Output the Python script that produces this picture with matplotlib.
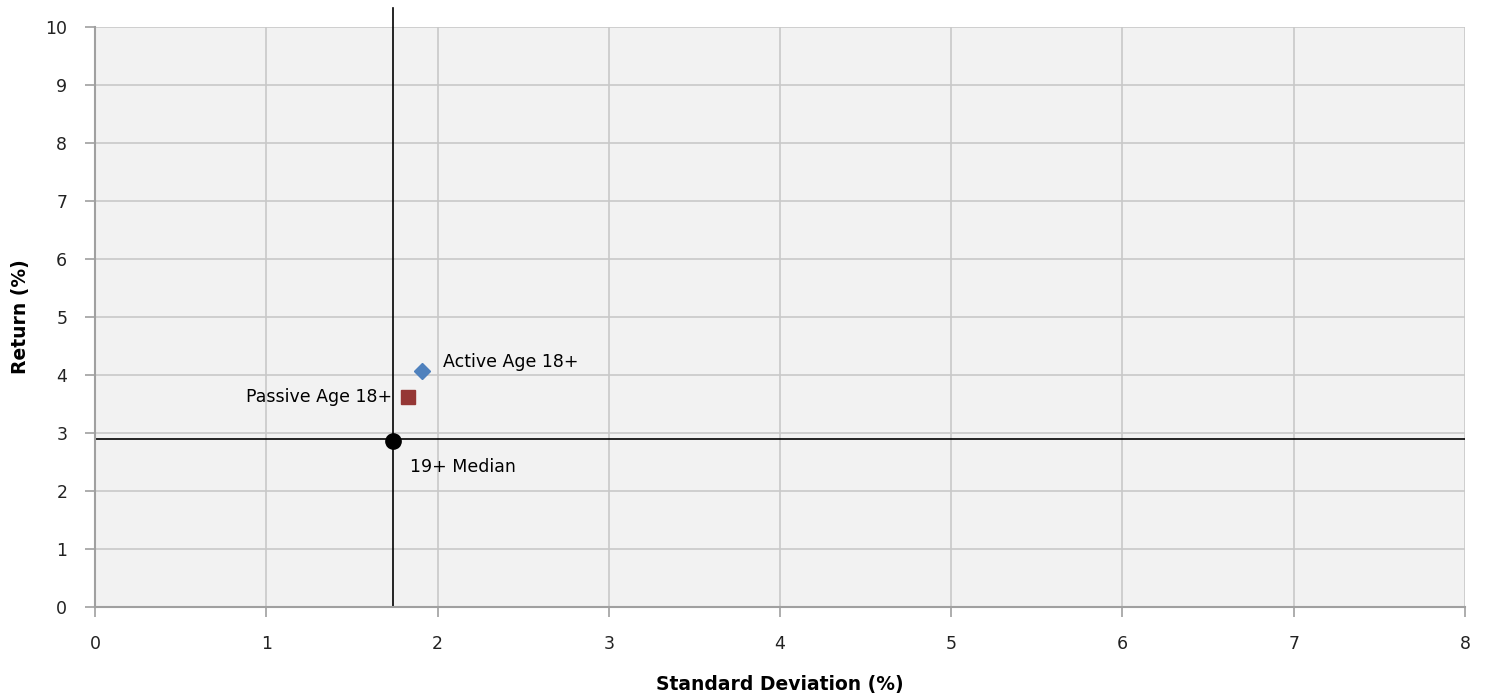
import matplotlib.pyplot as plt

# данные
names = ["Active Age 18+", "Passive Age 18+", "19+ Median"]
std_dev = [1.91, 1.83, 1.74]
returns = [4.07, 3.62, 2.87]
markers = ["D", "s", "o"]
colors = ["#4f81bd", "#953735", "#000000"]
median_x = 1.74
median_y = 2.9

fig = plt.figure(figsize=(14.85, 6.96), dpi=100)
ax = fig.add_axes([0.064, 0.128, 0.9225, 0.833])
ax.set_facecolor("#f2f2f2")

ax.set_xlim(0, 8)
ax.set_ylim(0, 10)
ax.set_xticks(range(0, 9))
ax.set_yticks(range(0, 11))
ax.grid(True, color="#c8c8c8", linewidth=1.2)
ax.set_axisbelow(True)

for s in ["top", "right"]:
    ax.spines[s].set_visible(False)
for s in ["left", "bottom"]:
    ax.spines[s].set_color("#a0a0a0")
    ax.spines[s].set_linewidth(1.5)
ax.tick_params(colors="#a0a0a0", labelcolor="#222222", length=7, width=1.2, labelsize=12.5)
ax.tick_params(axis="x", pad=13)
ax.tick_params(axis="y", pad=13)

# медианные линии
ax.plot([median_x, median_x], [0, 10.33], color="black", linewidth=1.2, clip_on=False)
ax.axhline(median_y, color="black", linewidth=1.2)

sizes = [8, 10, 11]
for n, x, y, m, c, sz in zip(names, std_dev, returns, markers, colors, sizes):
    ax.plot(x, y, marker=m, color=c, markersize=sz, linestyle="none", zorder=5)

ax.annotate(names[0], (std_dev[0], returns[0]), xytext=(15, 0), textcoords="offset points",
            fontsize=12.5, va="bottom")
ax.annotate(names[1], (std_dev[1], returns[1]), xytext=(-12, 0), textcoords="offset points",
            fontsize=12.5, ha="right", va="center")
ax.annotate(names[2], (std_dev[2], returns[2]), xytext=(12, -19), textcoords="offset points",
            fontsize=12.5, va="center")

ax.set_xlabel("Standard Deviation (%)", fontweight="bold", fontsize=13.5, labelpad=16)
ax.set_ylabel("Return (%)", fontweight="bold", fontsize=13.5, labelpad=11)

plt.savefig("out.png")
